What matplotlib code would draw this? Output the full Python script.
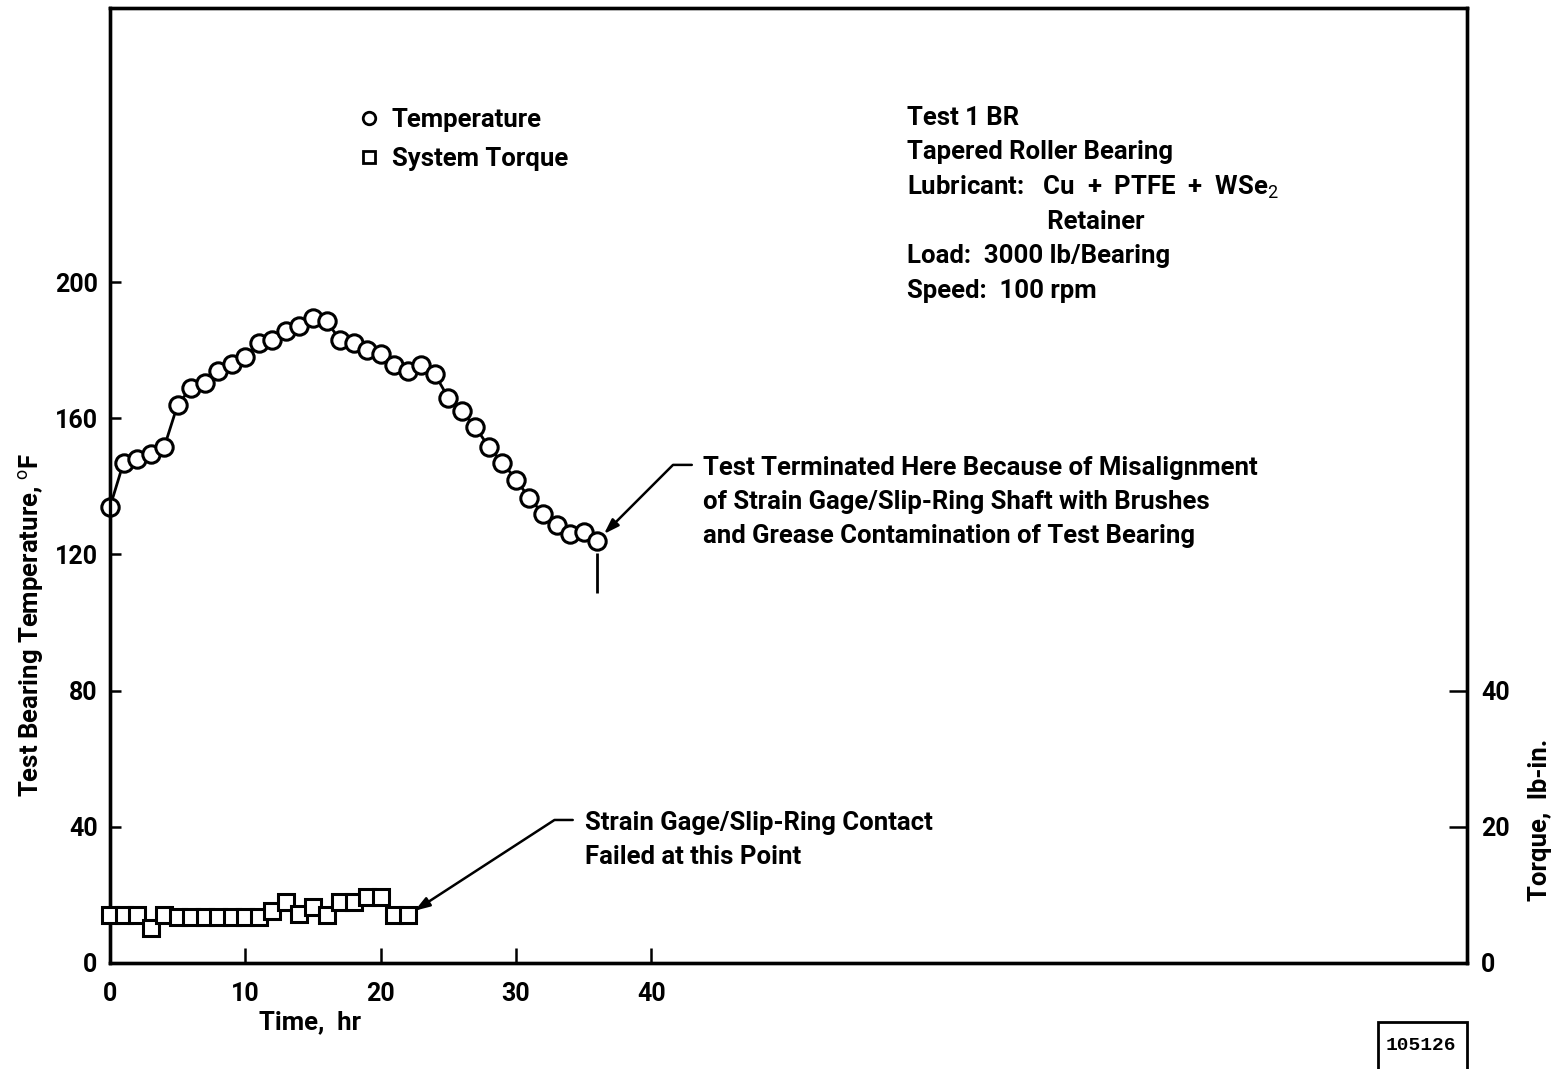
import matplotlib
matplotlib.use("Agg")
import matplotlib.pyplot as plt
from matplotlib.lines import Line2D
from matplotlib.patches import Rectangle

plt.rcParams['font.family'] = ['Roboto', 'DejaVu Sans']
plt.rcParams['mathtext.fontset'] = 'custom'
plt.rcParams['mathtext.rm'] = 'Roboto'

# ---- data ----
hours_temp = list(range(0, 37))
temperature = [134, 147, 148, 149.5, 151.5, 164, 169, 170.5, 174, 176, 178,
               182, 183, 185.5, 187, 189.5, 188.5, 183, 182, 180, 179, 175.5,
               174, 175.5, 173, 166, 162, 157.5, 151.5, 147, 142, 136.5, 132,
               128.5, 126, 126.5, 124]
hours_torque = list(range(0, 23))
torque = [7, 7, 7, 5.2, 7, 6.8, 6.8, 6.8, 6.8, 6.8, 6.8, 6.8, 7.6, 9, 7.2,
          8.2, 7, 9, 9, 9.7, 9.7, 7, 7]

x_ticks = [0, 10, 20, 30, 40]
temp_ticks = [0, 40, 80, 120, 160, 200]
torque_ticks = [0, 20, 40]

FS = 18.5
FW = "bold"
fig = plt.figure(figsize=(15.61, 10.69), dpi=100)
ax = fig.add_axes([0.0705, 0.0992, 0.8693, 0.8933])
ax.set_xlim(0, 100.3)
ax.set_ylim(0, 280.5)
ax2 = ax.twinx()
ax2.set_ylim(0, 140.25)

ax.plot(hours_temp, temperature, "-o", color="k", lw=2, ms=12.5, mfc="white",
        mec="k", mew=2.2, zorder=4, clip_on=False)
ax2.plot(hours_torque, torque, "-s", color="k", lw=2, ms=11, mfc="white",
         mec="k", mew=2.2, zorder=4, clip_on=False)

for a in (ax, ax2):
    for sp in a.spines.values():
        sp.set_linewidth(2.4)
ax.set_xticks(x_ticks)
ax.set_yticks(temp_ticks)
ax2.set_yticks(torque_ticks)
ax.tick_params(axis="x", direction="in", length=11, width=1.8, pad=14,
               labelsize=18)
ax.tick_params(axis="y", direction="in", length=8, width=1.8, pad=9,
               labelsize=18)
ax2.tick_params(axis="y", direction="in", length=13, width=1.8, pad=10,
                labelsize=18)
for lab in ax.get_xticklabels() + ax.get_yticklabels() + ax2.get_yticklabels():
    lab.set_fontweight("bold")

ax.set_xlabel("Time,  hr", fontsize=FS, fontweight=FW)
ax.xaxis.set_label_coords(0.147, -0.05)
ax.set_ylabel("Test Bearing Temperature, $^{\\mathrm{o}}$F", fontsize=FS,
              fontweight=FW)
ax.yaxis.set_label_coords(-0.047, 0.354)
ax2.set_ylabel("Torque,  lb-in.", fontsize=FS, fontweight=FW)
ax2.yaxis.set_label_coords(1.045, 0.15)

# legend
handles = [Line2D([], [], ls="none", marker="o", ms=9, mfc="white", mec="k", mew=2),
           Line2D([], [], ls="none", marker="s", ms=8, mfc="white", mec="k", mew=2)]
ax.legend(handles, ["Temperature", "System Torque"], loc="upper left",
          bbox_to_anchor=(0.164, 0.92), frameon=False,
          handlelength=1.0, handletextpad=0.4, labelspacing=0.6,
          prop={"weight": FW, "size": FS})

# test conditions block
info = ["Test 1 BR", "Tapered Roller Bearing",
        "Lubricant:   Cu  +  PTFE  +  WSe$_2$", "                      Retainer",
        "Load:  3000 lb/Bearing", "Speed:  100 rpm"]
for i, line in enumerate(info):
    ax.text(0.587, 0.885 - i * 0.0362, line, transform=ax.transAxes,
            fontsize=FS, fontweight=FW, va="center", ha="left")

# termination annotation
ax.text(0.437, 0.4825, "Test Terminated Here Because of Misalignment\n"
        "of Strain Gage/Slip-Ring Shaft with Brushes\n"
        "and Grease Contamination of Test Bearing",
        transform=ax.transAxes, fontsize=FS, fontweight=FW,
        va="center", ha="left", linespacing=1.52)
ax.annotate("", xy=(hours_temp[-1], temperature[-1]), xytext=(43.0, 146.3),
            arrowprops=dict(arrowstyle="-|>,head_length=0.9,head_width=0.3",
                            color="k", lw=1.8, shrinkA=0, shrinkB=7,
                            connectionstyle="angle,angleA=0,angleB=45,rad=0"))
ax.vlines(hours_temp[-1], 108.7, 120.4, color="k", lw=2)

# torque failure annotation
ax.text(0.35, 0.129, "Strain Gage/Slip-Ring Contact\nFailed at this Point",
        transform=ax.transAxes, fontsize=FS, fontweight=FW,
        va="center", ha="left", linespacing=1.52)
ax2.annotate("", xy=(hours_torque[-1], torque[-1]), xytext=(34.2, 21.0),
             arrowprops=dict(arrowstyle="-|>,head_length=0.9,head_width=0.3",
                             color="k", lw=1.8, shrinkA=0, shrinkB=6,
                             connectionstyle="angle,angleA=0,angleB=33,rad=0"))

# figure id box
fig.patches.append(Rectangle((1378 / 1561, -0.01), 89 / 1561, (1069 - 1022) / 1069 + 0.01,
                             transform=fig.transFigure, fill=False, ec="k", lw=2))
fig.text(1421 / 1561, 1 - 1045 / 1069, "105126", family="Liberation Mono",
         fontweight="bold", fontsize=14, ha="center", va="center")

fig.savefig("out.png", dpi=100)
